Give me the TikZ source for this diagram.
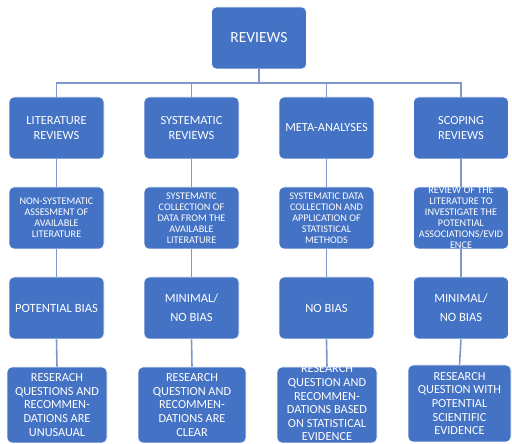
\documentclass[tikz,border=0pt]{standalone}
\usepackage{fontspec}
\setmainfont{Carlito}
\begin{document}
\begin{tikzpicture}[x=1pt,y=1pt,
  box/.style={draw=white, line width=0.6pt, fill=boxblue, rounded corners=5pt,
    inner sep=0pt, minimum width=95pt, minimum height=62pt},
  wide/.style={minimum width=#1},
  tall/.style={minimum height=#1},
  txt/.style={text=white, align=center, inner sep=0pt},
  ttop/.style={txt, font=\fontsize{15.5}{18}\selectfont},
  tone/.style={txt, font=\fontsize{12.4}{15.5}\selectfont},
  ttwo/.style={txt, font=\fontsize{10.2}{11}\selectfont},
  tthree/.style={txt, font=\fontsize{12.6}{19}\selectfont},
  tfour/.style={txt, font=\fontsize{12.3}{13.6}\selectfont},
  link/.style={draw=linkblue, line width=1.6pt}
]
\definecolor{boxblue}{HTML}{4472C4}
\definecolor{linkblue}{HTML}{7E96CC}
\useasboundingbox (0,0) rectangle (512,444);

% junction of the first branching
\coordinate (bus) at (259,361);

% root
\node[box] (top) at (259,406) {};
\node[ttop] (topt) at (top) {REVIEWS};

% level 1: kinds of review
\node[box] (lit1) at (56.5,316) {};
\node[box] (sys1) at (191.5,316) {};
\node[box] (met1) at (326.5,316) {};
\node[box] (sco1) at (461,316) {};
\node[tone] (lit1t) at (lit1) {LITERATURE\\REVIEWS};
\node[tone] (sys1t) at (sys1) {SYSTEMATIC\\REVIEWS};
\node[tone] (met1t) at (met1) {META-ANALYSES};
\node[tone] (sco1t) at (sco1) {SCOPING\\REVIEWS};

% level 2: method
\node[box] (lit2) at (56.5,226) {};
\node[box] (sys2) at (191.5,226) {};
\node[box] (met2) at (326.5,226) {};
\node[box] (sco2) at (461,226) {};
\node[ttwo] (lit2t) at (lit2) {NON-SYSTEMATIC\\ASSESMENT OF\\AVAILABLE\\LITERATURE};
\node[ttwo] (sys2t) at (sys2) {SYSTEMATIC\\COLLECTION OF\\DATA FROM THE\\AVAILABLE\\LITERATURE};
\node[ttwo] (met2t) at (met2) {SYSTEMATIC DATA\\COLLECTION AND\\APPLICATION OF\\STATISTICAL\\METHODS};
\node[ttwo] (sco2t) at (sco2) {REVIEW OF THE\\LITERATURE TO\\INVESTIGATE THE\\POTENTIAL\\ASSOCIATIONS/EVID\\ENCE};

% level 3: bias
\node[box] (lit3) at (56.5,136) {};
\node[box] (sys3) at (191.5,136) {};
\node[box] (met3) at (326.5,136) {};
\node[box] (sco3) at (461,136) {};
\node[tthree] (lit3t) at (lit3) {POTENTIAL BIAS};
\node[tthree] (sys3t) at (sys3) {MINIMAL/\\NO BIAS};
\node[tthree] (met3t) at (met3) {NO BIAS};
\node[tthree] (sco3t) at (sco3) {MINIMAL/\\NO BIAS};

% level 4: outcome
\node[box, wide=100pt, tall=76pt] (lit4) at (57,39) {};
\node[box, wide=108pt, tall=76pt] (sys4) at (192,39) {};
\node[box, wide=100pt, tall=76pt] (met4) at (327,39) {};
\node[box, wide=103pt, tall=77pt] (sco4) at (459.5,40.5) {};
\node[tfour] (lit4t) at (lit4) {RESERACH\\QUESTIONS AND\\RECOMMEN-\\DATIONS ARE\\UNUSAUAL};
\node[tfour] (sys4t) at (sys4) {RESEARCH\\QUESTION AND\\RECOMMEN-\\DATIONS ARE\\CLEAR};
\node[tfour] (met4t) at ([yshift=2pt]met4.center) {RESEARCH\\QUESTION AND\\RECOMMEN-\\DATIONS BASED\\ON STATISTICAL\\EVIDENCE};
\node[tfour] (sco4t) at (sco4) {RESEARCH\\QUESTION WITH\\POTENTIAL\\SCIENTIFIC\\EVIDENCE};

% tree connectors
\draw[link] (top.south) -- (bus);
\draw[link] (lit1.north) |- (bus) -| (sco1.north);
\draw[link] (sys1.north) -- (sys1.north |- bus);
\draw[link] (met1.north) -- (met1.north |- bus);
\foreach \c in {lit,sys,met,sco}{
  \draw[link] (\c1.south) -- (\c2.north);
  \draw[link] (\c2.south) -- (\c3.north);
  \draw[link] (\c3.south) -- (\c4.north);
}
\end{tikzpicture}
\end{document}
